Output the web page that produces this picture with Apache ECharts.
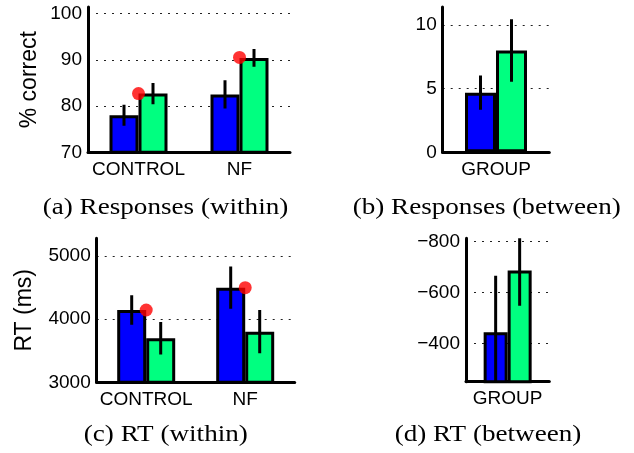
<!DOCTYPE html>
<html><head><meta charset="utf-8">
<script src="https://cdn.jsdelivr.net/npm/echarts@6/dist/echarts.min.js"></script>
<style>html,body{margin:0;padding:0;background:#fff}#c{width:634px;height:453px}</style>
</head><body><div id="c"></div>
<script>
// ---- data ----
const catsWithin = ['CONTROL', 'NF'];
const catsBetween = ['GROUP'];
// (a) Responses (within) — % correct
const respWithinBlue = [78.0, 82.5];
const respWithinBlueErr = [2.25, 3.05];
const respWithinGreen = [82.7, 90.4];
const respWithinGreenErr = [2.3, 1.9];
const respWithinDots = [82.7, 90.5];
// (b) Responses (between)
const respBetweenBlue = [4.68];
const respBetweenBlueErr = [1.35];
const respBetweenGreen = [7.98];
const respBetweenGreenErr = [2.45];
// (c) RT (within) — ms
const rtWithinBlue = [4144, 4497];
const rtWithinBlueErr = [232, 335];
const rtWithinGreen = [3696, 3800];
const rtWithinGreenErr = [258, 342];
const rtWithinDots = [4144, 4497];
// (d) RT (between)
const rtBetweenBlue = [-443];
const rtBetweenBlueErr = [223];
const rtBetweenGreen = [-686];
const rtBetweenGreenErr = [138];
// texts
const yNames = ['% correct', 'RT (ms)'];
const captions = ['(a) Responses (within)', '(b) Responses (between)', '(c) RT (within)', '(d) RT (between)'];

// ---- styling / layout ----
const BLUE = '#0000ff', GREEN = '#00ff80';
const SANS = '"Liberation Sans", Arial, Helvetica, sans-serif';
const SERIF = '"Liberation Serif", "Times New Roman", serif';
const labelFont = { fontFamily: SANS, fontSize: 19, color: '#000' };
const grids = [
  { left: 88, top: 7, width: 202, height: 145.3 },
  { left: 442.7, top: 7, width: 106.6, height: 145.3 },
  { left: 96.7, top: 238.3, width: 198, height: 144 },
  { left: 466, top: 238.3, width: 83.3, height: 143.4 }
];
const barWidths = [29, 31, 29, 24];

function mkX(gi, cats) {
  return {
    type: 'category', gridIndex: gi, data: cats,
    axisLine: { show: true, onZero: false, lineStyle: { color: '#000', width: 3 } },
    axisTick: { show: false },
    axisLabel: Object.assign({}, labelFont, { margin: 8, interval: 0, hideOverlap: false }),
    splitLine: { show: false }
  };
}
function mkY(gi, o) {
  return {
    type: 'value', gridIndex: gi, min: o.min, max: o.max, interval: o.interval,
    splitNumber: o.splitNumber, inverse: !!o.inverse,
    name: o.name, nameLocation: 'middle', nameGap: o.nameGap,
    nameTextStyle: { fontFamily: SANS, fontSize: 23, color: '#000' },
    axisLine: { show: true, onZero: false, lineStyle: { color: '#000', width: 3 } },
    axisTick: { show: false },
    axisLabel: Object.assign({}, labelFont, {
      margin: 6, showMinLabel: o.showMinLabel !== false, showMaxLabel: false,
      formatter: v => String(v).replace('-', '\u2212')
    }),
    splitLine: { show: true, showMinLine: false, showMaxLine: false,
      lineStyle: { color: '#222', width: 1, type: [2, 6] } }
  };
}
function bars(gi, data, color) {
  return { type: 'bar', xAxisIndex: gi, yAxisIndex: gi, data: data,
    barWidth: barWidths[gi], barGap: '0%', clip: true, z: 2,
    itemStyle: { color: color, borderColor: '#000', borderWidth: 3 } };
}
function errs(gi, vals, es, side) {
  const off = side * barWidths[gi] / 2;
  return { type: 'custom', xAxisIndex: gi, yAxisIndex: gi, clip: true, z: 3,
    data: vals.map((v, i) => [i, v, es[i]]), encode: { x: 0, y: 1 },
    renderItem: (params, api) => {
      const i = api.value(0), v = api.value(1), e = api.value(2);
      const p1 = api.coord([i, v + e]), p2 = api.coord([i, v - e]);
      const x = p1[0] + off;
      return { type: 'line', shape: { x1: x, y1: p1[1], x2: x, y2: p2[1] },
        style: { stroke: '#000', lineWidth: 3 } };
    } };
}
function dots(gi, data) {
  return { type: 'scatter', xAxisIndex: gi, yAxisIndex: gi, data: data,
    symbolSize: 13, z: 4, itemStyle: { color: '#ff0000' } };
}
const capPos = [[165.5, 208], [486.7, 208], [165.8, 435], [488, 435]];

const option = {
  animation: false,
  backgroundColor: '#fff',
  grid: grids,
  xAxis: [mkX(0, catsWithin), mkX(1, catsBetween), mkX(2, catsWithin), mkX(3, catsBetween)],
  yAxis: [
    mkY(0, { min: 70, max: 101.4, interval: 10, name: yNames[0], nameGap: 47 }),
    mkY(1, { min: 0, max: 11.4, interval: 5 }),
    mkY(2, { min: 3000, max: 5278, interval: 1000, name: yNames[1], nameGap: 61 }),
    mkY(3, { min: -813, max: -249, splitNumber: 3, inverse: true, showMinLabel: false })
  ],
  series: [
    bars(0, respWithinBlue, BLUE), bars(0, respWithinGreen, GREEN),
    errs(0, respWithinBlue, respWithinBlueErr, -1), errs(0, respWithinGreen, respWithinGreenErr, 1),
    dots(0, respWithinDots),
    bars(1, respBetweenBlue, BLUE), bars(1, respBetweenGreen, GREEN),
    errs(1, respBetweenBlue, respBetweenBlueErr, -1), errs(1, respBetweenGreen, respBetweenGreenErr, 1),
    bars(2, rtWithinBlue, BLUE), bars(2, rtWithinGreen, GREEN),
    errs(2, rtWithinBlue, rtWithinBlueErr, -1), errs(2, rtWithinGreen, rtWithinGreenErr, 1),
    dots(2, rtWithinDots),
    bars(3, rtBetweenBlue, BLUE), bars(3, rtBetweenGreen, GREEN),
    errs(3, rtBetweenBlue, rtBetweenBlueErr, -1), errs(3, rtBetweenGreen, rtBetweenGreenErr, 1)
  ],
  graphic: captions.map((t, k) => ({
    type: 'text', x: capPos[k][0], y: capPos[k][1], scaleX: 1.13,
    style: { text: t, fontFamily: SERIF, fontSize: 24, fill: '#000',
      textAlign: 'center', align: 'center', textVerticalAlign: 'middle', verticalAlign: 'middle' }
  }))
};
const chart = echarts.init(document.getElementById('c'), null, { renderer: 'canvas' });
chart.setOption(option);
</script>
</body></html>
